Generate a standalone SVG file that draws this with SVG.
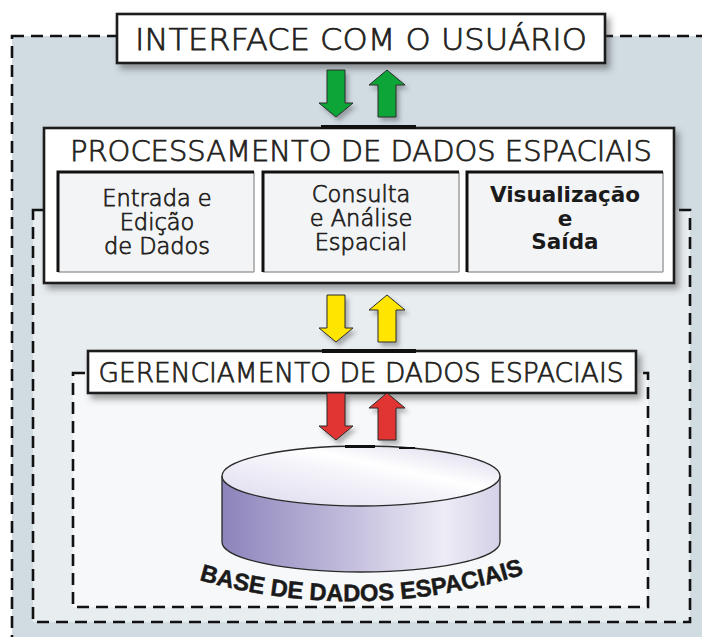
<svg xmlns="http://www.w3.org/2000/svg" width="702" height="637" viewBox="0 0 702 637">
<defs>
<style>
.dash{stroke:#111;stroke-width:2.6;stroke-dasharray:12 7}
.box{fill:#fff;stroke:#1a1a1a;stroke-width:2.6}
.t{font-family:"DejaVu Sans","Liberation Sans",sans-serif;font-weight:300;fill:#231f20;stroke:#231f20;stroke-width:0.75;text-anchor:middle}
.tb{font-family:"DejaVu Sans","Liberation Sans",sans-serif;font-weight:bold;fill:#1a1a1a;text-anchor:middle}
.sub{fill:#f3f4f6}
.bt{stroke:#111;stroke-width:3;fill:none}
.br{stroke:#a0a0a0;stroke-width:1.5;fill:none}
.arr{stroke:#2a2a2a;stroke-width:1}
.bar{fill:#111}
</style>
<filter id="sh" x="-10%" y="-20%" width="130%" height="160%">
<feDropShadow dx="4" dy="5" stdDeviation="3" flood-color="#444" flood-opacity="0.5"/>
</filter>
<filter id="sha" x="-40%" y="-20%" width="200%" height="150%">
<feDropShadow dx="3" dy="4" stdDeviation="2" flood-color="#444" flood-opacity="0.4"/>
</filter>
<linearGradient id="side" x1="0" y1="0" x2="1" y2="0">
<stop offset="0" stop-color="#8c84bb"/>
<stop offset="0.45" stop-color="#c2bcdc"/>
<stop offset="0.8" stop-color="#eeecf6"/>
<stop offset="1" stop-color="#d4d0e7"/>
</linearGradient>
<linearGradient id="topg" x1="0" y1="1" x2="1" y2="0">
<stop offset="0" stop-color="#dcd9ec"/>
<stop offset="0.5" stop-color="#f6f5fb"/>
<stop offset="0.62" stop-color="#ffffff"/>
<stop offset="1" stop-color="#d6d2e8"/>
</linearGradient>
<path id="dn" d="M -9 0 H 9 V 33 H 17 L 0 47 L -17 33 H -9 Z"/>
<path id="up" d="M 0 0 L 18 15 H 9 V 47 H -9 V 15 H -18 Z"/>
<path id="arc" d="M 199 580 Q 362 626 528 573"/>
</defs>

<g id="frames">
<rect x="12" y="36" width="720" height="640" fill="#d0dbe2" class="dash"/>
<rect x="33" y="210" width="657" height="412" fill="#e8edf0" class="dash"/>
<rect x="73" y="373" width="575" height="234" fill="#f6f8f9" class="dash"/>
</g>

<g id="interface">
<rect x="117" y="14" width="488" height="49" class="box" filter="url(#sh)"/>
<text x="361" y="50" class="t" font-size="31" textLength="452" lengthAdjust="spacingAndGlyphs">INTERFACE COM O USUÁRIO</text>
</g>

<g id="processamento">
<rect x="44" y="128" width="630" height="155" class="box" filter="url(#sh)"/>
<text x="361" y="161" class="t" font-size="28.5" textLength="582" lengthAdjust="spacingAndGlyphs">PROCESSAMENTO DE DADOS ESPACIAIS</text>
</g>

<g id="entrada">
<rect x="58" y="172" width="196" height="100" class="sub"/>
<path d="M 254 272 H 58" class="br"/><path d="M 254 172 V 272" class="br"/>
<path d="M 58 272 V 172 H 254" class="bt"/>
<text class="t" font-size="22.5" stroke-width="0.6"><tspan x="157" y="206">Entrada e</tspan><tspan x="157" y="230">Edição</tspan><tspan x="157" y="254">de Dados</tspan></text>
</g>

<g id="consulta">
<rect x="263" y="172" width="196" height="100" class="sub"/>
<path d="M 459 272 H 263" class="br"/><path d="M 459 172 V 272" class="br"/>
<path d="M 263 272 V 172 H 459" class="bt"/>
<text class="t" font-size="22.5" stroke-width="0.6"><tspan x="361" y="202">Consulta</tspan><tspan x="361" y="226">e Análise</tspan><tspan x="361" y="250">Espacial</tspan></text>
</g>

<g id="visualizacao">
<rect x="467" y="172" width="196" height="100" class="sub"/>
<path d="M 663 272 H 467" class="br"/><path d="M 663 172 V 272" class="br"/>
<path d="M 467 272 V 172 H 663" class="bt"/>
<text class="tb" font-size="21.5"><tspan x="565" y="202">Visualização</tspan><tspan x="565" y="226">e</tspan><tspan x="565" y="249">Saída</tspan></text>
</g>

<g id="gerenciamento">
<rect x="88" y="351" width="548" height="42" class="box" filter="url(#sh)"/>
<text x="361" y="382" class="t" font-size="26" textLength="525" lengthAdjust="spacingAndGlyphs">GERENCIAMENTO DE DADOS ESPACIAIS</text>
</g>

<g id="base">
<path d="M 222 476 V 542 A 139 30 0 0 0 500 542 V 476" fill="url(#side)" stroke="#2a2a2a" stroke-width="1.3"/>
<ellipse cx="361" cy="476" rx="139" ry="30" fill="url(#topg)" stroke="#2a2a2a" stroke-width="1.3"/>
<text font-family="'Liberation Sans',Arial,sans-serif" font-weight="bold" font-size="24" fill="#1a1a1a" stroke="#1a1a1a" stroke-width="0.5"><textPath href="#arc" textLength="330" lengthAdjust="spacingAndGlyphs">BASE DE DADOS ESPACIAIS</textPath></text>
</g>

<g id="connectors">
<g fill="#0aa537" filter="url(#sha)">
<use href="#dn" x="336" y="70" class="arr"/>
<use href="#up" x="387" y="70" class="arr"/>
</g>
<rect x="321" y="125" width="95" height="4" class="bar"/>
<g fill="#ffe500" filter="url(#sha)">
<use href="#dn" x="336" y="295" class="arr"/>
<use href="#up" x="387" y="295" class="arr"/>
</g>
<rect x="322" y="349" width="94" height="4" class="bar"/>
<g fill="#e03530" filter="url(#sha)">
<use href="#dn" x="336" y="393" class="arr"/>
<use href="#up" x="387" y="393" class="arr"/>
</g>
<rect x="345" y="445" width="30" height="3" class="bar"/>
<rect x="399" y="447" width="16" height="2" class="bar"/>
</g>
</svg>
